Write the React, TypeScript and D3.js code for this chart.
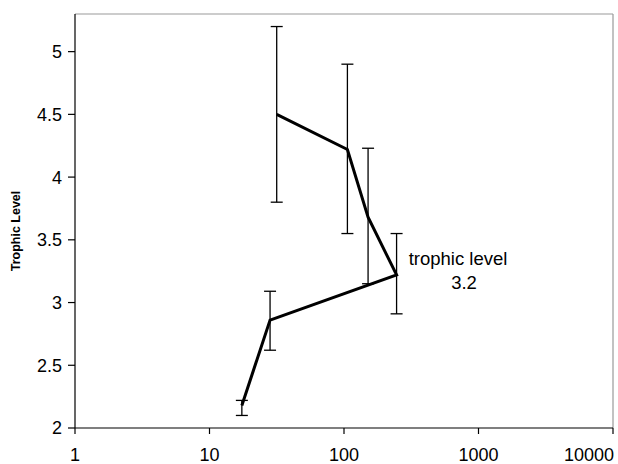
import React from "react";
import * as d3 from "d3";

const sizes = [17.4, 28.2, 246, 151, 106, 31.6];
const levels = [2.18, 2.86, 3.22, 3.68, 4.22, 4.5];
const errLow = [2.1, 2.62, 2.91, 3.15, 3.55, 3.8];
const errHigh = [2.22, 3.09, 3.55, 4.23, 4.9, 5.2];
const xTicks = [1, 10, 100, 1000, 10000];
const yTicks = [2, 2.5, 3, 3.5, 4, 4.5, 5];

const W = 618;
const H = 464;
const left = 75;
const right = 613;
const top = 14;
const bottom = 428;

export default function App() {
  const x = d3.scaleLog().domain([1, 10000]).range([left, right]);
  const y = d3.scaleLinear().domain([2, 5.3]).range([bottom, top]);
  const pts = sizes.map((s, i) => [s, levels[i]] as [number, number]);
  const line = d3
    .line<[number, number]>()
    .x((d) => x(d[0]))
    .y((d) => y(d[1]));
  const font = "Liberation Sans, Arial, sans-serif";
  return (
    <svg
      width={W}
      height={H}
      style={{ position: "absolute", left: 0, top: 0, background: "#fff" }}
      fontFamily={font}
    >
      <rect x={0} y={0} width={W} height={H} fill="#fff" />
      {/* frame top and right */}
      <line x1={left} x2={right} y1={top} y2={top} stroke="#999" strokeWidth={1.2} />
      <line x1={right} x2={right} y1={top} y2={bottom} stroke="#999" strokeWidth={1.2} />
      {/* axes */}
      <line x1={left} x2={left} y1={top} y2={bottom} stroke="#000" strokeWidth={1.2} />
      <line x1={left} x2={right} y1={bottom} y2={bottom} stroke="#000" strokeWidth={1.2} />
      {yTicks.map((t) => (
        <g key={"y" + t}>
          <line x1={left - 7} x2={left} y1={y(t)} y2={y(t)} stroke="#000" strokeWidth={1.2} />
          <text x={left - 13} y={y(t)} dy="0.36em" textAnchor="end" fontSize={18} fill="#000">
            {t}
          </text>
        </g>
      ))}
      {xTicks.map((t, i) => (
        <g key={"x" + t}>
          <line x1={x(t)} x2={x(t)} y1={bottom} y2={bottom + 6} stroke="#000" strokeWidth={1.2} />
          <text
            x={i === xTicks.length - 1 ? x(t) + 1 : x(t)}
            y={bottom + 33}
            textAnchor={i === xTicks.length - 1 ? "end" : "middle"}
            fontSize={18}
            fill="#000"
          >
            {t}
          </text>
        </g>
      ))}
      <text
        transform={`translate(20, 231) rotate(-90)`}
        textAnchor="middle"
        fontSize={12.5}
        fontWeight="bold"
        fill="#000"
      >
        Trophic Level
      </text>
      {/* error bars */}
      {sizes.map((s, i) => (
        <g key={"e" + i} stroke="#000" strokeWidth={1.3}>
          <line x1={x(s)} x2={x(s)} y1={y(errLow[i])} y2={y(errHigh[i])} />
          <line x1={x(s) - 6} x2={x(s) + 6} y1={y(errLow[i])} y2={y(errLow[i])} />
          <line x1={x(s) - 6} x2={x(s) + 6} y1={y(errHigh[i])} y2={y(errHigh[i])} />
        </g>
      ))}
      <path d={line(pts) || ""} fill="none" stroke="#000" strokeWidth={3} strokeLinejoin="miter" />
      <text x={458} y={265} textAnchor="middle" fontSize={18.5} fill="#000">
        trophic level
      </text>
      <text x={464} y={289} textAnchor="middle" fontSize={18.5} fill="#000">
        3.2
      </text>
    </svg>
  );
}
